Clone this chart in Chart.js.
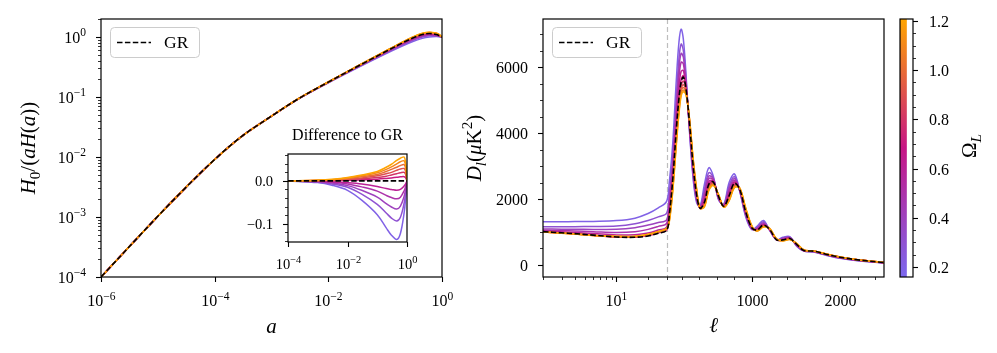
<!DOCTYPE html>
<html>
<head>
<meta charset="utf-8">
<script src="https://cdn.jsdelivr.net/npm/chart.js@4.4.0/dist/chart.umd.min.js"></script>
<style>
  html, body { margin: 0; padding: 0; background: #fff; }
  #wrap { position: relative; width: 997px; height: 353px; }
  #wrap canvas { position: absolute; left: 0; top: 0; }
</style>
</head>
<body>
<div id="wrap">
  <canvas id="hubble" width="997" height="353"></canvas>
  <canvas id="inset" width="997" height="353"></canvas>
  <canvas id="cmb" width="997" height="353"></canvas>
  <canvas id="cbar" width="997" height="353"></canvas>
</div>
<script>
// ---- data ----
const omegaL = [0.2, 0.3, 0.4, 0.5, 0.6, 0.7, 0.8, 0.9, 1.0, 1.1, 1.2];

// left panel: H0/(aH(a)) against a
const aGrid = [1e-6, 1e-5, 3e-5, 1e-4, 3e-4, 1e-3, 3e-3, 1e-2, 3e-2, 0.1, 0.2, 0.3, 0.45, 0.6, 0.8, 0.9, 1.0];
const hubbleGR = [1.0e-4, 1.03e-3, 3.0e-3, 9.1e-3, 0.0221, 0.048, 0.094, 0.177, 0.31, 0.566, 0.795, 0.955, 1.099, 1.143, 1.099, 1.052, 1.0];
const hubble02 = [1.0e-4, 1.03e-3, 3.0e-3, 9.1e-3, 0.0221, 0.048, 0.0931, 0.173, 0.296, 0.521, 0.708, 0.834, 0.948, 1.002, 1.017, 1.009, 1.0];
const hubble03 = [1.0e-4, 1.03e-3, 3.0e-3, 9.1e-3, 0.0221, 0.048, 0.0933, 0.174, 0.300, 0.535, 0.735, 0.872, 0.996, 1.046, 1.042, 1.023, 1.0];
const hubble04 = [1.0e-4, 1.03e-3, 3.0e-3, 9.1e-3, 0.0221, 0.048, 0.0935, 0.175, 0.303, 0.544, 0.753, 0.897, 1.026, 1.076, 1.059, 1.031, 1.0];
const hubble05 = [1.0e-4, 1.03e-3, 3.0e-3, 9.1e-3, 0.0221, 0.048, 0.0937, 0.176, 0.306, 0.552, 0.768, 0.918, 1.053, 1.100, 1.074, 1.038, 1.0];
const hubble06 = [1.0e-4, 1.03e-3, 3.0e-3, 9.1e-3, 0.0221, 0.048, 0.0938, 0.176, 0.308, 0.559, 0.781, 0.936, 1.075, 1.120, 1.086, 1.045, 1.0];
const hubble07 = [1.0e-4, 1.03e-3, 3.0e-3, 9.1e-3, 0.0221, 0.048, 0.0941, 0.177, 0.311, 0.568, 0.800, 0.962, 1.108, 1.154, 1.110, 1.060, 1.0];
const hubble08 = [1.0e-4, 1.03e-3, 3.0e-3, 9.1e-3, 0.0221, 0.048, 0.0941, 0.178, 0.312, 0.571, 0.804, 0.968, 1.118, 1.165, 1.121, 1.068, 1.0];
const hubble09 = [1.0e-4, 1.03e-3, 3.0e-3, 9.1e-3, 0.0221, 0.048, 0.0942, 0.178, 0.312, 0.573, 0.809, 0.974, 1.126, 1.175, 1.131, 1.075, 1.0];
const hubble10 = [1.0e-4, 1.03e-3, 3.0e-3, 9.1e-3, 0.0221, 0.048, 0.0943, 0.178, 0.313, 0.574, 0.812, 0.981, 1.134, 1.184, 1.141, 1.083, 1.0];
const hubble11 = [1.0e-4, 1.03e-3, 3.0e-3, 9.1e-3, 0.0221, 0.048, 0.0943, 0.178, 0.314, 0.577, 0.816, 0.987, 1.143, 1.194, 1.151, 1.089, 1.0];
const hubble12 = [1.0e-4, 1.03e-3, 3.0e-3, 9.1e-3, 0.0221, 0.048, 0.0944, 0.178, 0.314, 0.578, 0.820, 0.992, 1.152, 1.204, 1.161, 1.096, 1.0];
const hubbleByOmega = [hubble02, hubble03, hubble04, hubble05, hubble06, hubble07, hubble08, hubble09, hubble10, hubble11, hubble12];

// inset: difference to GR
const diffA = [1e-4, 1e-3, 3e-3, 1e-2, 3e-2, 0.1, 0.2, 0.3, 0.45, 0.6, 0.8, 0.9, 1.0];
const diffGR = [0, 0, 0, 0, 0, 0, 0, 0, 0, 0, 0, 0, 0];
const diff02 = [0, -0.004, -0.010, -0.022, -0.045, -0.079, -0.110, -0.127, -0.137, -0.123, -0.075, -0.041, 0];
const diff03 = [0, -0.003, -0.007, -0.015, -0.031, -0.055, -0.075, -0.087, -0.094, -0.085, -0.052, -0.028, 0];
const diff04 = [0, -0.002, -0.005, -0.011, -0.022, -0.038, -0.053, -0.061, -0.066, -0.059, -0.036, -0.020, 0];
const diff05 = [0, -0.001, -0.003, -0.007, -0.014, -0.024, -0.034, -0.039, -0.042, -0.038, -0.023, -0.013, 0];
const diff06 = [0, -0.001, -0.002, -0.004, -0.007, -0.013, -0.018, -0.020, -0.022, -0.020, -0.012, -0.007, 0];
const diff07 = [0, 0.0003, 0.001, 0.0014, 0.0025, 0.004, 0.0057, 0.007, 0.0085, 0.0095, 0.010, 0.0075, 0];
const diff08 = [0, 0.001, 0.0014, 0.003, 0.005, 0.008, 0.011, 0.014, 0.017, 0.019, 0.020, 0.015, 0];
const diff09 = [0, 0.001, 0.002, 0.004, 0.007, 0.012, 0.017, 0.020, 0.025, 0.028, 0.029, 0.022, 0];
const diff10 = [0, 0.001, 0.003, 0.005, 0.010, 0.015, 0.022, 0.027, 0.032, 0.036, 0.038, 0.029, 0];
const diff11 = [0, 0.001, 0.003, 0.007, 0.012, 0.019, 0.027, 0.033, 0.040, 0.045, 0.047, 0.035, 0];
const diff12 = [0, 0.002, 0.004, 0.008, 0.014, 0.022, 0.032, 0.039, 0.048, 0.053, 0.056, 0.042, 0];
const diffByOmega = [diff02, diff03, diff04, diff05, diff06, diff07, diff08, diff09, diff10, diff11, diff12];

// right panel: D_l against multipole
const ell = [2, 3, 4, 6, 10, 15, 20, 25, 30,
  60, 100, 140, 170, 195, 220, 250, 290, 330, 370,
  410, 460, 510, 560, 620, 680, 740, 800, 860, 930,
  1000, 1060, 1130, 1200, 1280, 1350, 1430, 1510, 1590, 1700,
  1850, 2000, 2200, 2500];
const dlGR = [1010, 975, 950, 905, 850, 840, 880, 960, 1050,
  1500, 2600, 4100, 5050, 5550, 5700, 5350, 4300, 3050, 2150,
  1720, 1900, 2450, 2520, 2080, 1780, 2100, 2480, 2300, 1600,
  1120, 1060, 1210, 1080, 760, 760, 800, 620, 440, 420,
  320, 235, 155, 72];
const dl02 = [1310, 1312, 1315, 1322, 1345, 1420, 1560, 1730, 1930,
  2500, 3700, 5600, 6750, 7150, 6850, 5800, 4050, 2650, 1900,
  1780, 2450, 2950, 2700, 1980, 1850, 2500, 2760, 2250, 1450,
  1070, 1180, 1350, 1050, 760, 840, 860, 560, 420, 395,
  290, 200, 130, 60];
const dl03 = [1160, 1160, 1162, 1168, 1182, 1250, 1350, 1460, 1570,
  2150, 3300, 5050, 6250, 6700, 6500, 5650, 4100, 2750, 1950,
  1760, 2300, 2800, 2650, 2000, 1830, 2400, 2680, 2250, 1490,
  1080, 1150, 1310, 1060, 760, 820, 845, 575, 425, 400,
  298, 210, 138, 63];
const dl04 = [1090, 1085, 1082, 1078, 1080, 1130, 1210, 1290, 1370,
  1950, 3100, 4800, 5950, 6420, 6300, 5550, 4150, 2850, 2000,
  1750, 2200, 2700, 2620, 2020, 1810, 2320, 2620, 2260, 1520,
  1090, 1120, 1280, 1065, 760, 800, 830, 590, 430, 405,
  303, 217, 142, 65];
const dl05 = [1050, 1040, 1030, 1010, 985, 1010, 1080, 1170, 1260,
  1800, 2950, 4600, 5700, 6150, 6100, 5480, 4200, 2930, 2060,
  1740, 2100, 2620, 2590, 2040, 1800, 2250, 2570, 2270, 1550,
  1100, 1100, 1250, 1070, 760, 785, 820, 600, 433, 410,
  308, 222, 146, 67];
const dl06 = [1025, 1005, 985, 955, 910, 920, 970, 1060, 1150,
  1650, 2780, 4350, 5400, 5870, 5900, 5420, 4250, 2990, 2100,
  1730, 2000, 2530, 2550, 2060, 1790, 2170, 2520, 2280, 1580,
  1110, 1080, 1230, 1075, 760, 770, 810, 610, 437, 415,
  314, 229, 151, 70];
const dl07 = [1010, 975, 950, 905, 855, 850, 895, 975, 1060,
  1520, 2620, 4120, 5100, 5620, 5740, 5380, 4300, 3040, 2140,
  1720, 1910, 2460, 2530, 2080, 1780, 2110, 2490, 2300, 1600,
  1120, 1060, 1210, 1080, 760, 760, 800, 620, 440, 420,
  320, 235, 155, 72];
const dl08 = [1005, 970, 945, 900, 852, 850, 900, 985, 1070,
  1450, 2500, 3950, 4930, 5450, 5580, 5320, 4350, 3120, 2200,
  1720, 1860, 2400, 2490, 2100, 1770, 2050, 2440, 2310, 1640,
  1140, 1050, 1190, 1090, 770, 750, 790, 630, 445, 422,
  323, 238, 157, 73];
const dl09 = [1000, 968, 942, 898, 855, 855, 910, 995, 1080,
  1400, 2420, 3850, 4820, 5340, 5470, 5280, 4380, 3170, 2240,
  1720, 1830, 2360, 2470, 2110, 1765, 2010, 2410, 2320, 1660,
  1150, 1045, 1180, 1095, 775, 745, 785, 635, 448, 424,
  325, 240, 158, 74];
const dl10 = [1000, 966, 940, 897, 860, 860, 918, 1003, 1090,
  1360, 2350, 3760, 4720, 5250, 5380, 5240, 4400, 3210, 2270,
  1720, 1800, 2320, 2450, 2120, 1760, 1980, 2380, 2330, 1680,
  1160, 1040, 1170, 1100, 780, 740, 780, 640, 450, 425,
  327, 241, 159, 74];
const dl11 = [1000, 965, 939, 896, 865, 865, 925, 1010, 1100,
  1330, 2290, 3690, 4640, 5180, 5310, 5200, 4420, 3240, 2300,
  1720, 1780, 2290, 2430, 2130, 1755, 1960, 2360, 2335, 1700,
  1170, 1035, 1160, 1105, 785, 735, 775, 645, 452, 426,
  328, 242, 160, 75];
const dl12 = [1000, 964, 938, 895, 870, 870, 932, 1018, 1110,
  1300, 2240, 3620, 4570, 5120, 5250, 5170, 4440, 3270, 2330,
  1720, 1760, 2260, 2410, 2140, 1750, 1940, 2340, 2340, 1720,
  1180, 1030, 1150, 1110, 790, 730, 770, 650, 455, 427,
  330, 243, 160, 75];
const dlByOmega = [dl02, dl03, dl04, dl05, dl06, dl07, dl08, dl09, dl10, dl11, dl12];

// tick labels
const hubbleXExp = ['−6', '−4', '−2', '0'];
const hubbleYExp = ['−4', '−3', '−2', '−1', '0'];
const insetXExp = ['−4', '−2', '0'];
const insetYTicks = ['0.0', '−0.1'];
const cmbYTicks = ['0', '2000', '4000', '6000'];
const cmbXTicks = ['1000', '2000'];
const cbarTicks = ['0.2', '0.4', '0.6', '0.8', '1.0', '1.2'];

// ---- look ----
const FONT = '"Liberation Serif", "DejaVu Serif", serif';
const TICK_FS = 16;
const TITLE_FS = 21;
const CBAR_MIN = 0.159, CBAR_MAX = 1.208;
const CMAP = [[123, 104, 238], [199, 21, 133], [255, 165, 0]];

function cmap(v) {
  let t = (v - CBAR_MIN) / (CBAR_MAX - CBAR_MIN);
  t = Math.min(1, Math.max(0, t));
  const i = t < 0.5 ? 0 : 1;
  const f = t < 0.5 ? t * 2 : (t - 0.5) * 2;
  const c = CMAP[i].map((a, k) => Math.round(a + (CMAP[i + 1][k] - a) * f));
  return `rgb(${c[0]},${c[1]},${c[2]})`;
}

// text with italic pieces, sub- and superscripts
function drawRich(ctx, parts, x, y, size, align, rot) {
  const ps = parts.map(([t, k]) => {
    const small = k === 'sup' || k === 'sub' || k === 'isub';
    const italic = k === 'i' || k === 'isub';
    const s = small ? size * 0.72 : size;
    const dy = k === 'sup' ? -size * 0.42 : (small ? size * 0.22 : 0);
    return { t, dy, font: `${italic ? 'italic ' : ''}${s}px ${FONT}` };
  });
  let w = 0;
  ps.forEach(p => { ctx.font = p.font; p.w = ctx.measureText(p.t).width; w += p.w; });
  ctx.save();
  ctx.translate(x, y);
  if (rot) ctx.rotate(rot);
  let cx = align === 'center' ? -w / 2 : align === 'right' ? -w : 0;
  ctx.fillStyle = '#000';
  ctx.textBaseline = 'alphabetic';
  ps.forEach(p => {
    ctx.font = p.font;
    ctx.fillText(p.t, cx, size * 0.34 + p.dy);
    cx += p.w;
  });
  ctx.restore();
}

function drawAxes(chart, spec) {
  const { ctx, chartArea: a } = chart;
  const sx = chart.scales.x, sy = chart.scales.y;
  const fs = spec.fs || TICK_FS;
  ctx.save();
  ctx.strokeStyle = '#000';
  (spec.xTicks || []).forEach(t => {
    const px = Math.round(sx.getPixelForValue(t.v)) + 0.5;
    ctx.lineWidth = t.major ? 1.1 : 0.8;
    ctx.beginPath();
    ctx.moveTo(px, a.bottom);
    ctx.lineTo(px, a.bottom + (t.major ? 5 : 3));
    ctx.stroke();
    if (t.label) drawRich(ctx, t.label, px, a.bottom + spec.xGap, fs, 'center');
  });
  const side = spec.ySide === 'right' ? 1 : -1;
  const x0 = side > 0 ? a.right : a.left;
  (spec.yTicks || []).forEach(t => {
    const py = Math.round(sy.getPixelForValue(t.v)) + 0.5;
    ctx.lineWidth = t.major ? 1.1 : 0.8;
    ctx.beginPath();
    ctx.moveTo(x0, py);
    ctx.lineTo(x0 + side * (t.major ? 5 : 3), py);
    ctx.stroke();
    if (t.label) drawRich(ctx, t.label, x0 + side * spec.yGap, py, fs, side > 0 ? 'left' : 'right');
  });
  ctx.lineWidth = 1.2;
  ctx.strokeRect(a.left, a.top, a.right - a.left, a.bottom - a.top);
  ctx.restore();
}

function drawLegend(chart) {
  const { ctx, chartArea: a } = chart;
  const x = a.left + 9, y = a.top + 8, w = 89, h = 30;
  ctx.save();
  ctx.beginPath();
  ctx.roundRect(x + 0.5, y + 0.5, w, h, 4);
  ctx.fillStyle = 'rgba(255,255,255,0.8)';
  ctx.fill();
  ctx.strokeStyle = '#cccccc';
  ctx.lineWidth = 1;
  ctx.stroke();
  ctx.beginPath();
  ctx.setLineDash([5.5, 2.4]);
  ctx.strokeStyle = '#000';
  ctx.lineWidth = 1.5;
  ctx.moveTo(x + 7, y + 15.5);
  ctx.lineTo(x + 41, y + 15.5);
  ctx.stroke();
  ctx.restore();
  drawRich(ctx, [['GR', 'r']], x + 54, y + 15, 17.5, 'left');
}

function logTicks(lo, hi, majorExp, labels, withMinor) {
  const out = [];
  for (let e = lo; e <= hi; e++) {
    const idx = majorExp.indexOf(e);
    if (idx >= 0) out.push({ v: Math.pow(10, e), major: true, label: [['10', 'r'], [labels[idx], 'sup']] });
    if (withMinor) for (let k = 2; k <= 9; k++) out.push({ v: k * Math.pow(10, e), major: false });
  }
  return out;
}

function seriesLine(xs, ys, color, dashed) {
  return {
    data: xs.map((x, i) => ({ x, y: ys[i] })),
    borderColor: color,
    borderWidth: dashed ? 1.6 : 1.5,
    borderDash: dashed ? [5.5, 2.4] : [],
    pointRadius: 0,
    tension: 0.35,
    fill: false
  };
}

function datasetsFor(xs, gr, byOmega) {
  const sets = [seriesLine(xs, gr, '#000', true)];
  for (let i = omegaL.length - 1; i >= 0; i--) sets.push(seriesLine(xs, byOmega[i], cmap(omegaL[i]), false));
  return sets;
}

const baseOptions = (padding, scales) => ({
  responsive: false,
  animation: false,
  devicePixelRatio: 1,
  layout: { padding },
  scales,
  plugins: { legend: { display: false }, tooltip: { enabled: false } },
  events: []
});

// custom multipole axis: log up to 30, linear above
const ELL_SPLIT = 30, ELL_MIN = 2, ELL_MAX = 2500, LOG_FRAC = 0.3625;
class EllScale extends Chart.LinearScale {
  getPixelForValue(v) {
    const f = v <= ELL_SPLIT
      ? LOG_FRAC * Math.log(v / ELL_MIN) / Math.log(ELL_SPLIT / ELL_MIN)
      : LOG_FRAC + (1 - LOG_FRAC) * (v - ELL_SPLIT) / (ELL_MAX - ELL_SPLIT);
    return this.getPixelForDecimal(f);
  }
  getValueForPixel(p) {
    const f = this.getDecimalForPixel(p);
    return f <= LOG_FRAC
      ? ELL_MIN * Math.pow(ELL_SPLIT / ELL_MIN, f / LOG_FRAC)
      : ELL_SPLIT + (f - LOG_FRAC) / (1 - LOG_FRAC) * (ELL_MAX - ELL_SPLIT);
  }
}
EllScale.id = 'ell';
EllScale.defaults = Chart.LinearScale.defaults;
Chart.register(EllScale);

// ---- left panel ----
new Chart('hubble', {
  type: 'line',
  data: { datasets: datasetsFor(aGrid, hubbleGR, hubbleByOmega) },
  options: baseOptions({ left: 101, top: 19, right: 555, bottom: 76 }, {
    x: { type: 'logarithmic', min: 1e-6, max: 1, display: false },
    y: { type: 'logarithmic', min: 1e-4, max: Math.pow(10, 0.3), display: false }
  }),
  plugins: [{
    id: 'hubbleFrame',
    afterDraw(chart) {
      drawAxes(chart, {
        xTicks: logTicks(-6, 0, [-6, -4, -2, 0], hubbleXExp, false),
        yTicks: logTicks(-4, 0, [-4, -3, -2, -1, 0], hubbleYExp, true).filter(t => t.v <= 2),
        xGap: 24, yGap: 15
      });
      const { ctx, chartArea: a } = chart;
      drawRich(ctx, [['H', 'i'], ['0', 'sub'], ['/(', 'r'], ['a', 'i'], ['H', 'i'], ['(', 'r'], ['a', 'i'], ['))', 'r']],
        28, (a.top + a.bottom) / 2, TITLE_FS, 'center', -Math.PI / 2);
      drawRich(ctx, [['a', 'i']], (a.left + a.right) / 2, 326, TITLE_FS, 'center');
      drawLegend(chart);
    }
  }]
});

// ---- inset ----
const insetYMinor = [0.06, 0.04, 0.02, -0.02, -0.04, -0.06, -0.08, -0.12, -0.14];
new Chart('inset', {
  type: 'line',
  data: { datasets: datasetsFor(diffA, diffGR, diffByOmega) },
  options: baseOptions({ left: 288, top: 154, right: 590, bottom: 111 }, {
    x: { type: 'logarithmic', min: 1e-4, max: 1, display: false },
    y: { type: 'linear', min: -0.143, max: 0.063, display: false }
  }),
  plugins: [{
    id: 'insetFrame',
    beforeDraw(chart) {
      const { ctx, chartArea: a } = chart;
      ctx.save();
      ctx.fillStyle = '#fff';
      ctx.fillRect(a.left, a.top, a.right - a.left, a.bottom - a.top);
      ctx.restore();
    },
    afterDraw(chart) {
      const yTicks = [{ v: 0, major: true, label: [[insetYTicks[0], 'r']] },
        { v: -0.1, major: true, label: [[insetYTicks[1], 'r']] }]
        .concat(insetYMinor.map(v => ({ v, major: false })));
      drawAxes(chart, {
        xTicks: logTicks(-4, 0, [-4, -2, 0], insetXExp, false).filter(t => t.major),
        yTicks, xGap: 22, yGap: 15, fs: 14.5
      });
      const { chartArea: a } = chart;
      drawRich(chart.ctx, [['Difference to GR', 'r']], (a.left + a.right) / 2, 135, 16, 'center');
    }
  }]
});

// ---- right panel ----
const cmbYMinor = [500, 1000, 1500, 2500, 3000, 3500, 4500, 5000, 5500, 6500, 7000];
const cmbXMinorLog = [2, 3, 4, 5, 6, 7, 8, 9, 20, 30];
const cmbXMinorLin = [200, 400, 600, 800, 1200, 1400, 1600, 1800, 2200, 2400];
new Chart('cmb', {
  type: 'line',
  data: { datasets: datasetsFor(ell, dlGR, dlByOmega) },
  options: baseOptions({ left: 543, top: 19, right: 113, bottom: 76 }, {
    x: { type: 'ell', min: ELL_MIN, max: ELL_MAX, bounds: 'data', display: false },
    y: { type: 'linear', min: -365, max: 7460, display: false }
  }),
  plugins: [{
    id: 'cmbFrame',
    beforeDatasetsDraw(chart) {
      const { ctx, chartArea: a } = chart;
      const px = Math.round(chart.scales.x.getPixelForValue(ELL_SPLIT)) + 0.5;
      ctx.save();
      ctx.strokeStyle = '#bdbdbd';
      ctx.lineWidth = 1.2;
      ctx.setLineDash([5, 3]);
      ctx.beginPath();
      ctx.moveTo(px, a.top);
      ctx.lineTo(px, a.bottom);
      ctx.stroke();
      ctx.restore();
    },
    afterDraw(chart) {
      const xTicks = [{ v: 10, major: true, label: [['10', 'r'], ['1', 'sup']] }]
        .concat(cmbXMinorLog.map(v => ({ v, major: false })))
        .concat(cmbXTicks.map(s => ({ v: +s, major: true, label: [[s, 'r']] })))
        .concat(cmbXMinorLin.map(v => ({ v, major: false })));
      const yTicks = cmbYTicks.map(s => ({ v: +s, major: true, label: [[s, 'r']] }))
        .concat(cmbYMinor.map(v => ({ v, major: false })));
      drawAxes(chart, { xTicks, yTicks, xGap: 24, yGap: 15 });
      const { ctx, chartArea: a } = chart;
      drawRich(ctx, [['D', 'i'], ['l', 'isub'], ['(', 'r'], ['μ', 'i'], ['K', 'r'], ['2', 'sup'], [')', 'r']],
        474, (a.top + a.bottom) / 2, TITLE_FS, 'center', -Math.PI / 2);
      drawRich(ctx, [['ℓ', 'i']], (a.left + a.right) / 2, 325, TITLE_FS, 'center');
      drawLegend(chart);
    }
  }]
});

// ---- colour bar ----
const cbarMinor = [0.25, 0.3, 0.35, 0.45, 0.5, 0.55, 0.65, 0.7, 0.75, 0.85, 0.9, 0.95, 1.05, 1.1, 1.15];
new Chart('cbar', {
  type: 'bar',
  data: {
    labels: ['ΩL'],
    datasets: [{
      data: [[CBAR_MIN, CBAR_MAX]],
      barPercentage: 1,
      categoryPercentage: 1,
      borderWidth: 0,
      backgroundColor(c) {
        const chart = c.chart;
        if (!chart.chartArea) return '#999';
        const y = chart.scales.y;
        const g = chart.ctx.createLinearGradient(0, y.getPixelForValue(CBAR_MIN), 0, y.getPixelForValue(CBAR_MAX));
        g.addColorStop(0, cmap(CBAR_MIN));
        g.addColorStop(0.5, cmap((CBAR_MIN + CBAR_MAX) / 2));
        g.addColorStop(1, cmap(CBAR_MAX));
        return g;
      }
    }]
  },
  options: baseOptions({ left: 900, top: 19, right: 84, bottom: 76 }, {
    x: { type: 'category', display: false, offset: false },
    y: { type: 'linear', min: CBAR_MIN, max: CBAR_MAX, display: false }
  }),
  plugins: [{
    id: 'cbarFrame',
    afterDraw(chart) {
      const yTicks = cbarTicks.map(s => ({ v: +s, major: true, label: [[s, 'r']] }))
        .concat(cbarMinor.map(v => ({ v, major: false })));
      drawAxes(chart, { yTicks, ySide: 'right', yGap: 16 });
      drawRich(chart.ctx, [['Ω', 'r'], ['L', 'isub']], 969, 146, TITLE_FS, 'center', -Math.PI / 2);
    }
  }]
});
</script>
</body>
</html>
